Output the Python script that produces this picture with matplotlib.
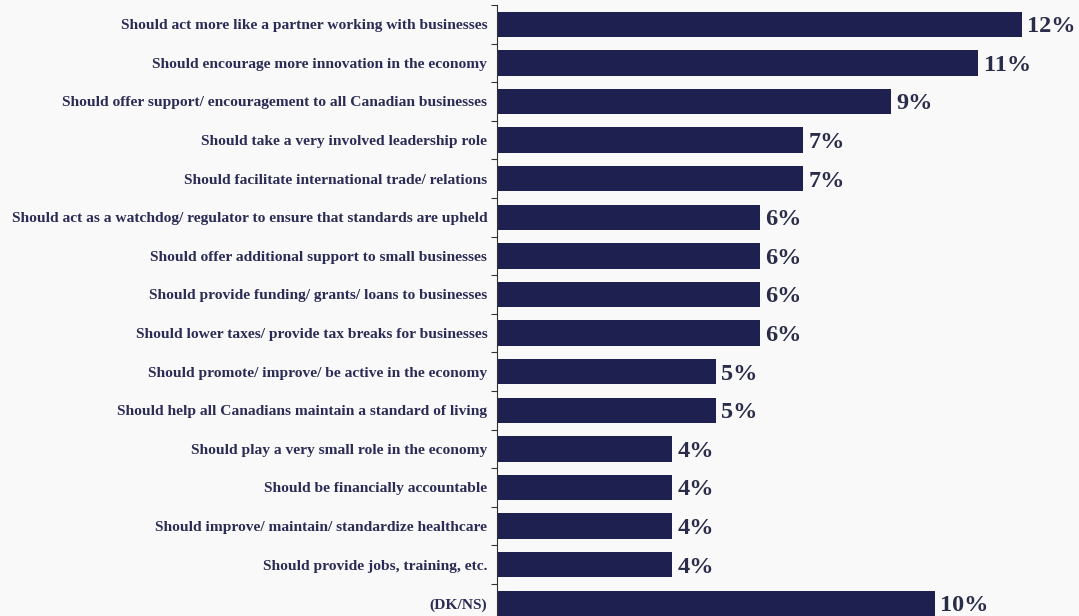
import numpy as np
import matplotlib.pyplot as plt

labels = [
    "Should act more like a partner working with businesses",
    "Should encourage more innovation in the economy",
    "Should offer support/ encouragement to all Canadian businesses",
    "Should take a very involved leadership role",
    "Should facilitate international trade/ relations",
    "Should act as a watchdog/ regulator to ensure that standards are upheld",
    "Should offer additional support to small businesses",
    "Should provide funding/ grants/ loans to businesses",
    "Should lower taxes/ provide tax breaks for businesses",
    "Should promote/ improve/ be active in the economy",
    "Should help all Canadians maintain a standard of living",
    "Should play a very small role in the economy",
    "Should be financially accountable",
    "Should improve/ maintain/ standardize healthcare",
    "Should provide jobs, training, etc.",
    "(DK/NS)",
]
values = [12, 11, 9, 7, 7, 6, 6, 6, 6, 5, 5, 4, 4, 4, 4, 10]

bar_color = "#1e2150"
text_color = "#2b2c55"

plt.rcParams["font.family"] = ["Liberation Serif", "DejaVu Serif"]

fig = plt.figure(figsize=(10.79, 6.16), dpi=100)
fig.patch.set_facecolor("#f9f9f9")

# axes run slightly past the bottom edge so the last bar sits low
ax = fig.add_axes([0.4606, -0.0107, 0.5394, 1.0026])
ax.set_facecolor("none")

y = np.arange(len(labels))
ax.barh(y, values, height=0.66, color=bar_color)

for yi, v in zip(y, values):
    ax.text(v + 0.12, yi, f"{v}%", va="center_baseline", ha="left",
            fontsize=17.5, fontweight="bold", color="#2a2d4a")

ax.set_xlim(0, 13.3)
ax.set_ylim(len(labels) - 0.5, -0.5)

ax.set_yticks(y)
ax.set_yticklabels(labels, fontsize=11.15, fontweight="bold", color=text_color)
for lab in ax.get_yticklabels():
    lab.set_va("center_baseline")
ax.tick_params(axis="y", which="major", length=0, pad=7)
ax.set_yticks(np.arange(-0.5, len(labels), 1), minor=True)
ax.tick_params(axis="y", which="minor", length=4, width=0.8, color="#333333")
ax.set_xticks([])

for side in ["top", "right", "bottom"]:
    ax.spines[side].set_visible(False)
ax.spines["left"].set_color("#333333")
ax.spines["left"].set_linewidth(0.8)

fig.savefig("out.png", dpi=100, facecolor=fig.get_facecolor())
